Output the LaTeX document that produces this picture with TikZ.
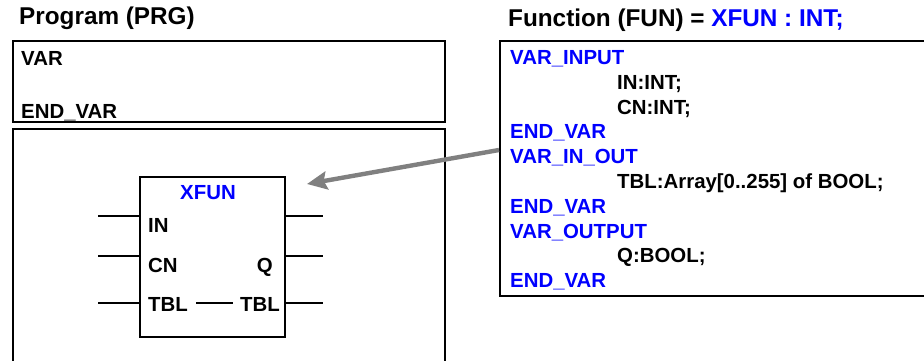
\documentclass[tikz,border=0pt]{standalone}
\usepackage{fontspec}
\setmainfont{Liberation Sans}
\usetikzlibrary{arrows.meta}
\definecolor{kwblue}{RGB}{0,0,255}
\definecolor{arrowgray}{RGB}{128,128,128}
\begin{document}
\begin{tikzpicture}[x=1pt,y=-1pt,
  frame/.style={draw=black,line width=1.8pt,fill=none,inner sep=0pt,anchor=north west},
  pin/.style={draw=black,line width=1.5pt},
  txt/.style={inner sep=0pt,anchor=base west,font=\fontsize{20.4}{24}\selectfont\bfseries},
  kw/.style={txt,text=kwblue},
  title/.style={inner sep=0pt,anchor=base west,font=\fontsize{24.3}{28}\selectfont\bfseries},
  link/.style={draw=arrowgray,line width=4.4pt,-{Stealth[length=20pt,width=18pt,inset=3pt]}}
]
\useasboundingbox[fill=white] (0,0) rectangle (924,360);
\clip (0,0) rectangle (924,360);

% headings
\node[title] (prgtitle) at (19,24) {Program (PRG)};
\node[title] (funtitle) at (508,26) {Function (FUN) = \textcolor{kwblue}{XFUN : INT;}};

% program: declaration part and body
\node[frame,minimum width=432pt,minimum height=81pt] (prgvar) at (12,40) {};
\node[txt] (prgvarkw) at (21,65) {VAR};
\node[txt] (prgendvar) at (21,118) {END\_VAR};
\node[frame,minimum width=432pt,minimum height=240pt] (prgbody) at (12,128) {};

% function block call
\node[frame,minimum width=145pt,minimum height=160pt] (blk) at (139,176) {};
\node[kw,anchor=base] (blkname) at (208,199) {XFUN};
\node[txt] (pinin) at (148,232) {IN};
\node[txt] (pincn) at (148,272) {CN};
\node[txt] (pintbl) at (148,311) {TBL};
\node[txt,anchor=base east] (pinq) at (273,272) {Q};
\node[txt,anchor=base east] (pintblout) at (280,311) {TBL};

\coordinate (inL) at (98,216);   \coordinate (inR) at (blk.west |- inL);
\coordinate (cnL) at (98,256);   \coordinate (cnR) at (blk.west |- cnL);
\coordinate (tbL) at (98,303);   \coordinate (tbR) at (blk.west |- tbL);
\coordinate (o1L) at (blk.east |- inL);  \coordinate (o1R) at (323,216);
\coordinate (qL)  at (blk.east |- cnL);  \coordinate (qR)  at (323,256);
\coordinate (o3L) at (blk.east |- tbL);  \coordinate (o3R) at (323,303);
\draw[pin] (inL) -- (inR);
\draw[pin] (cnL) -- (cnR);
\draw[pin] (tbL) -- (tbR);
\draw[pin] (o1L) -- (o1R);
\draw[pin] (qL) -- (qR);
\draw[pin] (o3L) -- (o3R);
% in/out parameter passed straight through
\coordinate (thruL) at (196,303);
\coordinate (thruR) at (233,303);
\draw[pin] (thruL) -- (thruR);

% function declaration
\node[frame,minimum width=440pt,minimum height=255pt] (fundecl) at (499,40) {};
\node[kw]  (vin)    at (510,64)  {VAR\_INPUT};
\node[txt] (dIN)    at (617,89)  {IN:INT;};
\node[txt] (dCN)    at (617,114) {CN:INT;};
\node[kw]  (evin)   at (510,138) {END\_VAR};
\node[kw]  (vio)    at (510,163) {VAR\_IN\_OUT};
\node[txt] (dTBL)   at (617,188) {TBL:Array[0..255] of BOOL;};
\node[kw]  (evio)   at (510,213) {END\_VAR};
\node[kw]  (vout)   at (510,238) {VAR\_OUTPUT};
\node[txt] (dQ)     at (617,262) {Q:BOOL;};
\node[kw]  (evout)  at (510,287) {END\_VAR};

% reference from declaration to the call
\coordinate (arrowstart) at (fundecl.west |- 0,150);
\coordinate (arrowtip) at (307,184);
\draw[link] (arrowstart) -- (arrowtip);
\end{tikzpicture}
\end{document}
